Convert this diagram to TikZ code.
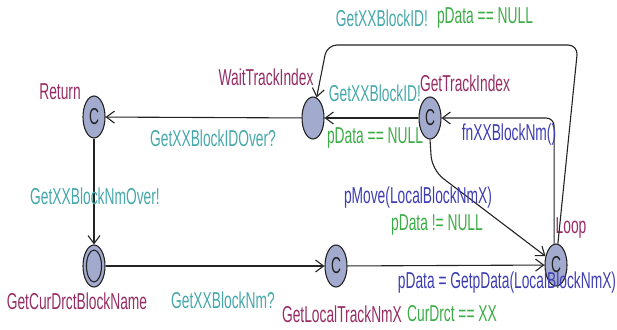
\documentclass[tikz,border=0pt]{standalone}
\usepackage{fontspec}
\setmainfont[FakeStretch=0.6]{Liberation Sans}
\usetikzlibrary{shapes.geometric,arrows.meta}
\definecolor{locname}{RGB}{150,45,100}
\definecolor{syncc}{RGB}{70,168,170}
\definecolor{guardc}{RGB}{60,172,70}
\definecolor{updc}{RGB}{62,62,178}
\definecolor{nodefill}{RGB}{162,170,206}
\definecolor{edgec}{RGB}{35,35,35}
\tikzset{
  loc/.style={ellipse, draw=edgec, line width=1.1pt, fill=nodefill, minimum width=22pt, minimum height=42pt, inner sep=0pt, font=\fontsize{23}{23}\selectfont, text=edgec},
  inloc/.style={ellipse, draw=edgec, line width=1.1pt, minimum width=15pt, minimum height=32pt, inner sep=0pt},
  lbl/.style={inner sep=0pt, font=\fontsize{23}{23}\selectfont},
  nm/.style={lbl, text=locname},
  sy/.style={lbl, text=syncc},
  gd/.style={lbl, text=guardc},
  up/.style={lbl, text=updc},
  edge/.style={draw=edgec, line width=1.1pt, -{Straight Barb[length=8pt,width=12pt,line width=1.1pt]}},
}
\begin{document}
\begin{tikzpicture}[x=1pt,y=-1pt]
\useasboundingbox (0,0) rectangle (617,329);
% locations
\node[loc] (ret) at (94,117) {C};
\node[loc] (wait) at (313,118) {};
\node[loc] (gti) at (430,118) {C};
\node[loc] (loop) at (556,265) {C};
\node[loc] (init) at (94,266) {};
\node[inloc] (initin) at (94,266) {};
\node[loc] (glt) at (336,266) {C};
% location names
\node[nm] (nret) at (60,92) {Return};
\node[nm] (nwait) at (266,77) {WaitTrackIndex};
\node[nm] (ngti) at (465,83) {GetTrackIndex};
\node[nm] (nloop) at (571,228) {Loop};
\node[nm] (ninit) at (77,301) {GetCurDrctBlockName};
\node[nm] (nglt) at (342,314) {GetLocalTrackNmX};
% edges
\draw[edge] (gti) -- (wait);
\draw[edge] (wait) -- (ret);
\draw[edge] (ret) -- (init);
\draw[edge] (init) -- (glt);
\draw[edge] (glt) -- (loop);
\coordinate (c1) at (432,170);
\draw[edge, rounded corners=14pt] (gti.south) -- (c1) -- (loop.140);
\draw[edge, rounded corners=8pt] (loop.95) |- (gti.east);
\coordinate (c2) at (578,45);
\coordinate (c3) at (327,45);
\draw[edge, rounded corners=10pt] (loop.85) -- (c2) -- (c3) -- (wait.80);
% edge labels
\node[sy] (l1) at (375,93) {GetXXBlockID!};
\node[gd] (l2) at (375,138) {pData == NULL};
\node[sy] (l3) at (213,138) {GetXXBlockIDOver?};
\node[sy] (l4) at (95,196) {GetXXBlockNmOver!};
\node[sy] (l5) at (223,300) {GetXXBlockNm?};
\node[gd] (l6) at (452,314) {CurDrct == XX};
\node[up] (l7) at (507,283) {pData = GetpData(LocalBlockNmX)};
\node[up] (l8) at (418,198) {pMove(LocalBlockNmX)};
\node[gd] (l9) at (437,225) {pData != NULL};
\node[up] (l10) at (509,135) {fnXXBlockNm()};
\node[sy] (l11) at (382,18) {GetXXBlockID!};
\node[gd] (l12) at (485,18) {pData == NULL};
\end{tikzpicture}
\end{document}
